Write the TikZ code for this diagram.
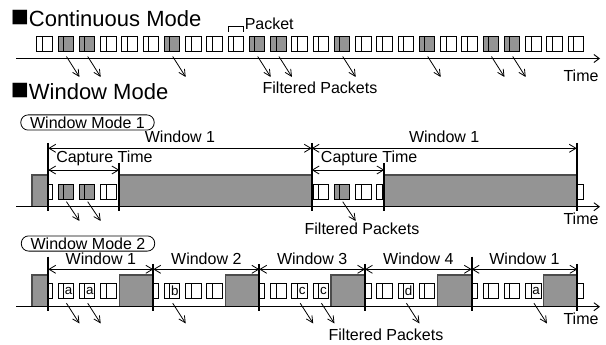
\documentclass[tikz,border=0pt]{standalone}
\usepackage{fontspec}
\setmainfont{Liberation Sans}
\usetikzlibrary{arrows.meta}

\newcommand\pkt[3]{%
  \draw[pktline,fill=#3] (#1,#2) rectangle ++(5.5,-15);
  \draw[pktline,fill=#3] (#1+5.5,#2) rectangle ++(10,-15);}
\newcommand\bigsq{{\fontsize{22.5}{19}\selectfont ■}}

\begin{document}
\begin{tikzpicture}[x=0.75pt,y=-0.75pt,
  pktline/.style={line width=0.6pt,draw=black},
  block/.style={line width=0.8pt,draw=black!70,fill=black!42},
  timeaxis/.style={line width=0.7pt,-{Straight Barb[length=4pt,width=6pt]}},
  filtered/.style={line width=0.6pt,-{Straight Barb[length=5pt,width=5pt]}},
  span/.style={line width=0.6pt,{Straight Barb[length=5pt,width=6pt]}-{Straight Barb[length=5pt,width=6pt]}},
  winline/.style={line width=1.3pt},
  txt/.style={font=\fontsize{12}{14}\selectfont,inner sep=0pt},
  heading/.style={font=\fontsize{16.5}{19}\selectfont,inner sep=0pt,anchor=base west},
  mode/.style={txt,draw,line width=0.6pt,rounded corners=5.5pt,inner xsep=7pt,inner ysep=1.4pt,text height=8.6pt,text depth=0pt},
  letter/.style={font=\fontsize{10}{12}\selectfont,inner sep=0pt}]
\useasboundingbox (0,0) rectangle (606,345);

\node[heading] (cm) at (10.5,26.5) {\bigsq Continuous Mode};
\node[heading] (wm) at (10.5,100) {\bigsq Window Mode};

% continuous mode
\coordinate (C0) at (16,58.5);
\coordinate (C1) at (600,58.5);
\foreach \k [evaluate=\k as \px using 36.7+(\k-1)*21.25] in {1,...,26}
  \pkt{\px}{51.5}{white};
\foreach \k [evaluate=\k as \px using 36.7+(\k-1)*21.25] in {2,3,7,11,12,15,19,22,23}{
  \pkt{\px}{51.5}{black!42};
  \coordinate (cs\k) at (\px+8.5,56.5);
  \coordinate (ce\k) at (\px+21.5,77);
  \draw[filtered] (cs\k) -- (ce\k);}
\draw[timeaxis] (C0) -- (C1);
\draw[pktline] (228,32) |- (243.2,26.7) -- (243.2,32);
\node[txt,anchor=west] (pk) at (244.5,23.5) {Packet};
\node[txt] (cf) at (320,87.5) {Filtered Packets};
\node[txt] (ct) at (581,75.5) {Time};

% window mode 1
\node[mode] (wm1) at (87.5,122.5) {Window Mode 1};
\foreach \k [evaluate=\k as \px using 36.7+(\k-1)*21.25] in {1,...,26}
  \pkt{\px}{199.5}{white};
\foreach \k [evaluate=\k as \px using 36.7+(\k-1)*21.25] in {2,3,15}{
  \pkt{\px}{199.5}{black!42};
  \coordinate (as\k) at (\px+8.5,201.7);
  \coordinate (ae\k) at (\px+21.5,221);
  \draw[filtered] (as\k) -- (ae\k);}
\draw[block] (32,175) rectangle (48.3,206.7);
\draw[block] (119.3,175) rectangle (311.7,206.7);
\draw[block] (384.3,175) rectangle (576.7,206.7);
\coordinate (A0) at (16,206.7);
\coordinate (A1) at (600,206.7);
\draw[timeaxis] (A0) -- (A1);

\coordinate (W0) at (48.3,148.3);
\coordinate (W1) at (311.7,148.3);
\coordinate (W2) at (576.7,148.3);
\coordinate (K0) at (119.3,170);
\coordinate (K1) at (384.3,170);
\foreach \p in {W0,W1,W2}
  \draw[winline] (\p) ++(0,-5.3) -- ++(0,68);
\foreach \p in {K0,K1}
  \draw[winline] (\p) ++(0,-7) -- ++(0,48);
\draw[span] (W0) -- node[txt,above=4pt] (w1a) {Window 1} (W1);
\draw[span] (W1) -- node[txt,above=4pt] (w1b) {Window 1} (W2);
\draw[span] (W0 |- K0) -- (K0);
\draw[span] (W1 |- K1) -- (K1);
\node[txt,anchor=west] (ka) at (56,158) {Capture Time};
\node[txt,anchor=west] (kb) at (320.7,158) {Capture Time};
\node[txt] (af) at (362,229) {Filtered Packets};
\node[txt] (at) at (581,218.5) {Time};

% window mode 2
\node[mode] (wm2) at (88,243.5) {Window Mode 2};
\foreach \k [evaluate=\k as \px using 36.7+(\k-1)*21.25] in {1,...,26}
  \pkt{\px}{298.5}{white};
\foreach \k/\t [evaluate=\k as \px using 36.7+(\k-1)*21.25] in {2/a,3/a,7/b,13/c,14/c,18/d,24/a}{
  \node[letter] (l\k) at (\px+10.6,291) {\t};
  \coordinate (bs\k) at (\px+8.5,303.2);
  \coordinate (be\k) at (\px+21.5,323.5);
  \draw[filtered] (bs\k) -- (be\k);}
\draw[block] (32,275) rectangle (48.3,306.7);
\foreach \b in {153.3,259.3,365,471.7,577.3}
  \draw[block] (\b-34,275) rectangle (\b,306.7);
\coordinate (B0) at (16,306.7);
\coordinate (B1) at (600,306.7);
\draw[timeaxis] (B0) -- (B1);

\coordinate (V0) at (48.3,269.3);
\coordinate (V1) at (153.3,269.3);
\coordinate (V2) at (259.3,269.3);
\coordinate (V3) at (365,269.3);
\coordinate (V4) at (471.7,269.3);
\coordinate (V5) at (577.3,269.3);
\foreach \p in {V0,V4}
  \draw[winline] (\p) ++(0,-12.6) -- ++(0,54.6);
\foreach \p in {V1,V2,V3,V5}
  \draw[winline] (\p) ++(0,-5.5) -- ++(0,47.5);
\draw[span] (V0) -- node[txt,above=3pt] (v1) {Window 1} (V1);
\draw[span] (V1) -- node[txt,above=3pt] (v2) {Window 2} (V2);
\draw[span] (V2) -- node[txt,above=3pt] (v3) {Window 3} (V3);
\draw[span] (V3) -- node[txt,above=3pt] (v4) {Window 4} (V4);
\draw[span] (V4) -- node[txt,above=3pt] (v5) {Window 1} (V5);
\node[txt] (bf) at (386,334.5) {Filtered Packets};
\node[txt] (bt) at (581,318.5) {Time};
\end{tikzpicture}
\end{document}
